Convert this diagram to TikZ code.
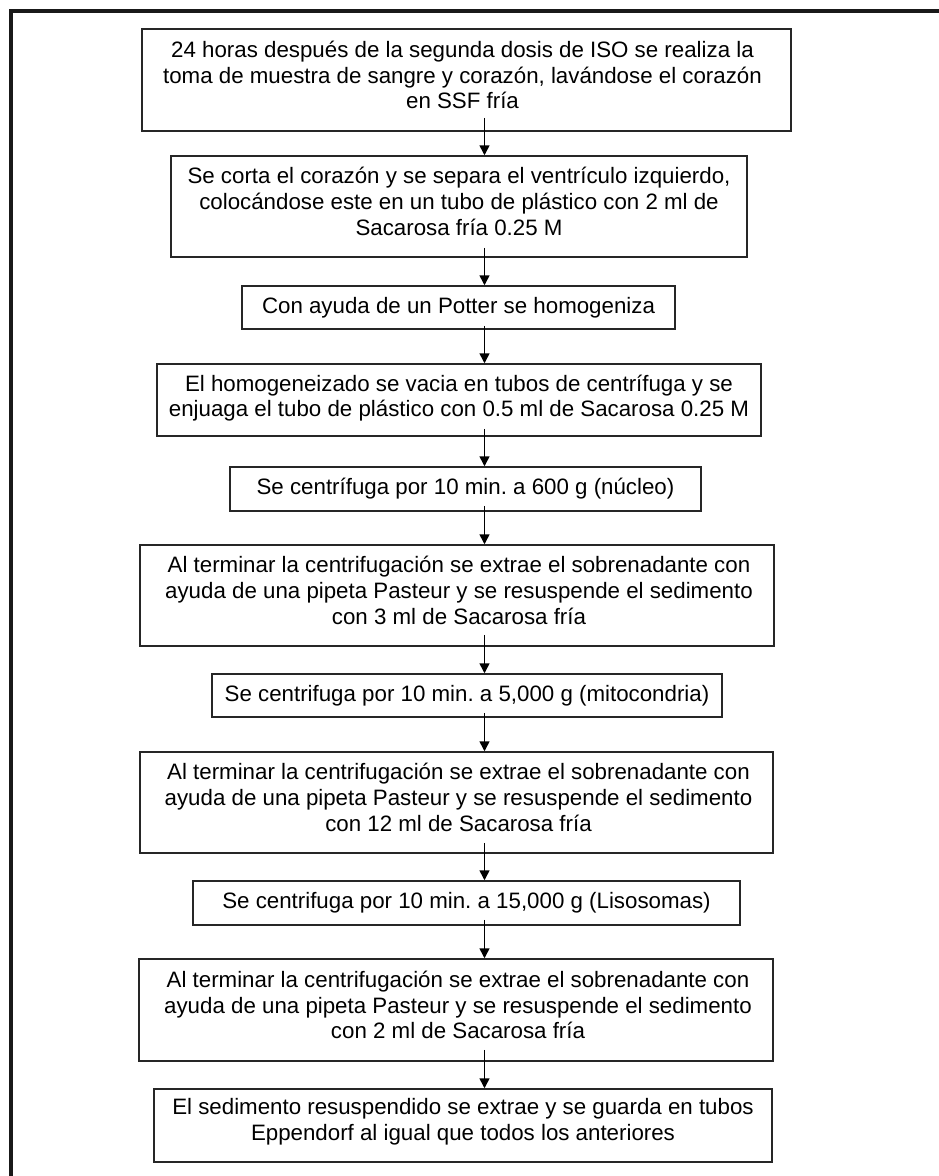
\documentclass[tikz,border=0pt]{standalone}
\usepackage{fontspec}
\setmainfont{Liberation Sans}
\usetikzlibrary{arrows.meta,calc}
\frenchspacing
\begin{document}
\begin{tikzpicture}[x=1pt,y=-1pt,
  stepbox/.style={draw=black!85,line width=1.5pt,inner sep=0pt},
  steptext/.style={align=center,inner sep=0pt,font=\fontsize{22.3}{25.8}\selectfont},
  flow/.style={line width=1.5pt,-{Triangle[width=10pt,length=10pt]}},
  frame/.style={line width=3.5pt,black!90}]
\useasboundingbox (0,0) rectangle (939,1176);
% outer frame (only top and left sides visible)
\coordinate (fbl) at (11,1180);
\coordinate (ftl) at (11,11);
\coordinate (ftr) at (943,11);
\draw[frame] (fbl) -- (ftl) -- (ftr);
\coordinate (spine) at (484.5,0);
% boxes
\node[stepbox,minimum width=649pt,minimum height=102pt] (b1) at (466.5,80) {};
\node[stepbox,minimum width=576pt,minimum height=101pt] (b2) at (459,206.5) {};
\node[stepbox,minimum width=433pt,minimum height=43pt] (b3) at (458.5,307.5) {};
\node[stepbox,minimum width=604pt,minimum height=72pt] (b4) at (459,400) {};
\node[stepbox,minimum width=471pt,minimum height=44pt] (b5) at (465.5,489) {};
\node[stepbox,minimum width=634pt,minimum height=101pt] (b6) at (457,595.5) {};
\node[stepbox,minimum width=510pt,minimum height=43pt] (b7) at (467,695.5) {};
\node[stepbox,minimum width=633pt,minimum height=101pt] (b8) at (456.5,802.5) {};
\node[stepbox,minimum width=547pt,minimum height=44pt] (b9) at (466.5,903) {};
\node[stepbox,minimum width=634pt,minimum height=102pt] (b10) at (456,1010) {};
\node[stepbox,minimum width=618pt,minimum height=73pt] (b11) at (463,1125.5) {};
% texts
\node[steptext] (t1) at ($(b1.center)+(-4,-5)$) {24 horas después de la segunda dosis de ISO se realiza la\\toma de muestra de sangre y corazón, lavándose el corazón\\en SSF fría};
\node[steptext] (t2) at ($(b2.center)+(0,-5)$) {Se corta el corazón y se separa el ventrículo izquierdo,\\colocándose este en un tubo de plástico con 2 ml de\\Sacarosa fría 0.25 M};
\node[steptext] (t3) at ($(b3.center)+(0,0)$) {Con ayuda de un Potter se homogeniza};
\node[steptext] (t4) at ($(b4.center)+(0,-2)$) {El homogeneizado se vacia en tubos de centrífuga y se\\enjuaga el tubo de plástico con 0.5 ml de Sacarosa 0.25 M};
\node[steptext] (t5) at ($(b5.center)+(0,0)$) {Se centrífuga por 10 min. a 600 g (núcleo)};
\node[steptext] (t6) at ($(b6.center)+(2,-5)$) {Al terminar la centrifugación se extrae el sobrenadante con\\ayuda de una pipeta Pasteur y se resuspende el sedimento\\con 3 ml de Sacarosa fría};
\node[steptext] (t7) at ($(b7.center)+(0,0)$) {Se centrifuga por 10 min. a 5,000 g (mitocondria)};
\node[steptext] (t8) at ($(b8.center)+(2,-5)$) {Al terminar la centrifugación se extrae el sobrenadante con\\ayuda de una pipeta Pasteur y se resuspende el sedimento\\con 12 ml de Sacarosa fría};
\node[steptext] (t9) at ($(b9.center)+(0,0)$) {Se centrifuga por 10 min. a 15,000 g (Lisosomas)};
\node[steptext] (t10) at ($(b10.center)+(2,-5)$) {Al terminar la centrifugación se extrae el sobrenadante con\\ayuda de una pipeta Pasteur y se resuspende el sedimento\\con 2 ml de Sacarosa fría};
\node[steptext] (t11) at ($(b11.center)+(0,-4)$) {El sedimento resuspendido se extrae y se guarda en tubos\\Eppendorf al igual que todos los anteriores};
% connectors
\draw[flow] ([yshift=14pt]b1.south -| spine) -- (b2.north -| spine);
\draw[flow] ([yshift=10pt]b2.south -| spine) -- (b3.north -| spine);
\draw[flow] ([yshift=4pt]b3.south -| spine) -- (b4.north -| spine);
\draw[flow] ([yshift=8pt]b4.south -| spine) -- (b5.north -| spine);
\draw[flow] ([yshift=6pt]b5.south -| spine) -- (b6.north -| spine);
\draw[flow] ([yshift=12pt]b6.south -| spine) -- (b7.north -| spine);
\draw[flow] ([yshift=5pt]b7.south -| spine) -- (b8.north -| spine);
\draw[flow] ([yshift=11pt]b8.south -| spine) -- (b9.north -| spine);
\draw[flow] ([yshift=6pt]b9.south -| spine) -- (b10.north -| spine);
\draw[flow] ([yshift=12pt]b10.south -| spine) -- (b11.north -| spine);
\end{tikzpicture}
\end{document}
